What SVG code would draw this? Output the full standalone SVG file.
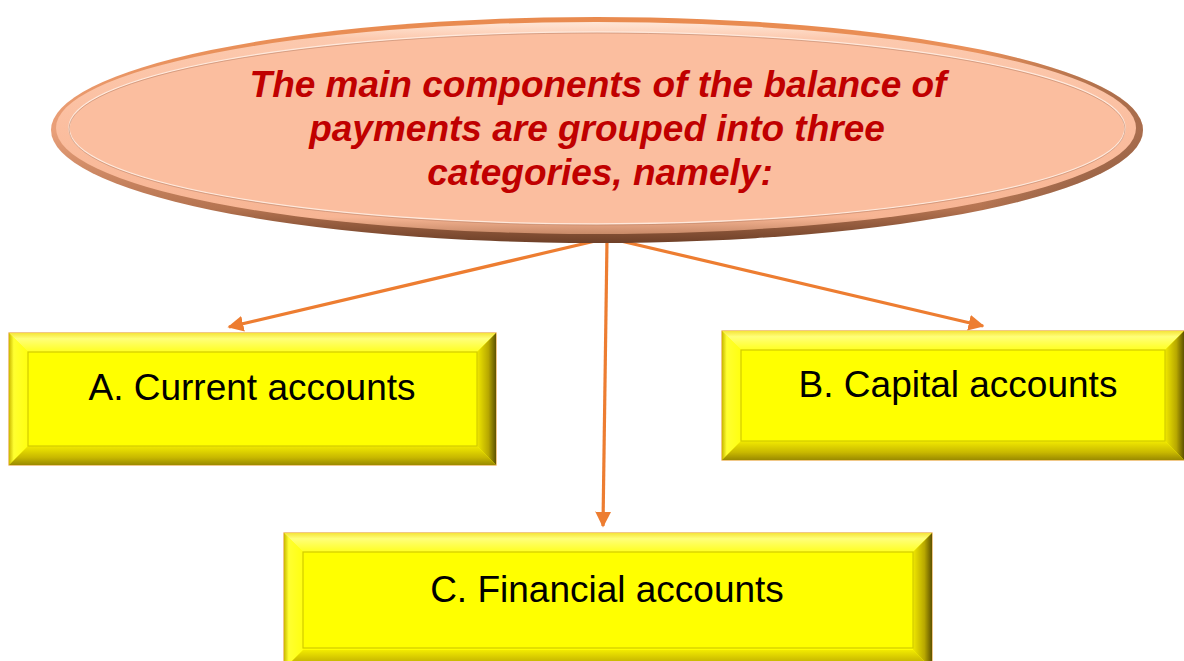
<svg xmlns="http://www.w3.org/2000/svg" width="1184" height="661" viewBox="0 0 1184 661">
  <defs>
    <!-- bevelled oval shading -->
    <linearGradient id="ovalRim" x1="0" y1="0" x2="0" y2="1">
      <stop offset="0" stop-color="#E98A4E"/>
      <stop offset="0.5" stop-color="#E9A07A"/>
      <stop offset="0.85" stop-color="#B47350"/>
      <stop offset="1" stop-color="#6E4028"/>
    </linearGradient>
    <linearGradient id="ovalSide" x1="0" y1="0" x2="1" y2="0">
      <stop offset="0" stop-color="#000000" stop-opacity="0"/>
      <stop offset="0.85" stop-color="#000000" stop-opacity="0"/>
      <stop offset="1" stop-color="#5A3018" stop-opacity="0.45"/>
    </linearGradient>
    <linearGradient id="ovalBody" x1="0" y1="0" x2="0" y2="1">
      <stop offset="0" stop-color="#FFE6D6"/>
      <stop offset="0.08" stop-color="#FCC9AE"/>
      <stop offset="0.5" stop-color="#FBBE9F"/>
      <stop offset="0.92" stop-color="#F7B594"/>
      <stop offset="1" stop-color="#C88A68"/>
    </linearGradient>
    <!-- bevelled box shading -->
    <linearGradient id="bevTop" x1="0" y1="0" x2="0" y2="1">
      <stop offset="0" stop-color="#F5E43A"/>
      <stop offset="0.3" stop-color="#FFFF7A"/>
      <stop offset="1" stop-color="#FFFF20"/>
    </linearGradient>
    <linearGradient id="bevLeft" x1="0" y1="0" x2="1" y2="0">
      <stop offset="0" stop-color="#C9B800"/>
      <stop offset="0.25" stop-color="#FFFF30"/>
      <stop offset="1" stop-color="#FFFF10"/>
    </linearGradient>
    <linearGradient id="bevRight" x1="0" y1="0" x2="1" y2="0">
      <stop offset="0" stop-color="#F0E800"/>
      <stop offset="0.6" stop-color="#B8A800"/>
      <stop offset="1" stop-color="#5E5200"/>
    </linearGradient>
    <linearGradient id="bevBottom" x1="0" y1="0" x2="0" y2="1">
      <stop offset="0" stop-color="#F2EA00"/>
      <stop offset="0.6" stop-color="#C8B800"/>
      <stop offset="1" stop-color="#9A8A00"/>
    </linearGradient>
    <marker id="arrow" viewBox="0 0 10 10" refX="9" refY="5" markerWidth="5" markerHeight="5" orient="auto" markerUnits="strokeWidth">
      <path d="M0,0 L10,5 L0,10 z" fill="#ED7D31"/>
    </marker>
    <style>
      .title { font-family: "Liberation Sans", Arial, sans-serif; font-size: 37px; font-weight: bold; font-style: italic; fill: #C00000; text-anchor: middle; }
      .label { font-family: "Liberation Sans", Arial, sans-serif; font-size: 37px; fill: #000000; text-anchor: middle; }
      .frame { fill: #FFFF00; stroke: #E8A33A; stroke-width: 1.2; }
      .face { fill: #FFFF00; stroke: #D2CC00; stroke-width: 1.2; }
      .link { fill: none; stroke: #ED7D31; stroke-width: 3.2; marker-end: url(#arrow); }
    </style>
  </defs>

  <rect width="1184" height="661" fill="#FFFFFF"/>

  <!-- connectors from the oval to the three categories -->
  <g id="connectors">
    <line class="link" x1="608" y1="238" x2="229" y2="327"/>
    <line class="link" x1="608" y1="238" x2="983" y2="326"/>
    <line class="link" x1="607" y1="240" x2="603" y2="526"/>
  </g>

  <!-- heading oval -->
  <g id="heading">
    <ellipse cx="597" cy="130" rx="546" ry="113" fill="url(#ovalRim)"/>
    <ellipse cx="597" cy="130" rx="546" ry="113" fill="url(#ovalSide)"/>
    <ellipse cx="596" cy="128" rx="540" ry="106" fill="url(#ovalBody)"/>
    <ellipse cx="597" cy="128" rx="528" ry="96" fill="#FBBE9F" stroke="#FFE9DC" stroke-width="1.5"/>
    <ellipse cx="597" cy="129" rx="528" ry="96" fill="none" stroke="#B98064" stroke-width="0.8" stroke-opacity="0.7"/>
    <text class="title" x="598" y="97">The main components of the balance of</text>
    <text class="title" x="597" y="141">payments are grouped into three</text>
    <text class="title" x="600" y="185">categories, namely:</text>
  </g>

  <!-- A. Current accounts -->
  <g id="current">
    <rect class="frame" x="9" y="333" width="487" height="132"/>
    <polygon fill="url(#bevTop)" points="9,333 496,333 477,352 28,352"/>
    <polygon fill="url(#bevLeft)" points="9,333 28,352 28,446 9,465"/>
    <polygon fill="url(#bevRight)" points="496,333 496,465 477,446 477,352"/>
    <polygon fill="url(#bevBottom)" points="9,465 496,465 477,446 28,446"/>
    <rect class="face" x="28" y="352" width="449" height="94"/>
    <text class="label" x="252" y="400">A. Current accounts</text>
  </g>

  <!-- B. Capital accounts -->
  <g id="capital">
    <rect class="frame" x="722" y="331" width="462" height="129"/>
    <polygon fill="url(#bevTop)" points="722,331 1184,331 1165,350 741,350"/>
    <polygon fill="url(#bevLeft)" points="722,331 741,350 741,441 722,460"/>
    <polygon fill="url(#bevRight)" points="1184,331 1184,460 1165,441 1165,350"/>
    <polygon fill="url(#bevBottom)" points="722,460 1184,460 1165,441 741,441"/>
    <rect class="face" x="741" y="350" width="424" height="91"/>
    <text class="label" x="958" y="397">B. Capital accounts</text>
  </g>

  <!-- C. Financial accounts -->
  <g id="financial">
    <rect class="frame" x="284" y="533" width="648" height="136"/>
    <polygon fill="url(#bevTop)" points="284,533 932,533 913,552 303,552"/>
    <polygon fill="url(#bevLeft)" points="284,533 303,552 303,650 284,669"/>
    <polygon fill="url(#bevRight)" points="932,533 932,669 913,650 913,552"/>
    <polygon fill="url(#bevBottom)" points="284,669 932,669 913,650 303,650"/>
    <rect class="face" x="303" y="552" width="610" height="96"/>
    <text class="label" x="607" y="602">C. Financial accounts</text>
  </g>
</svg>
